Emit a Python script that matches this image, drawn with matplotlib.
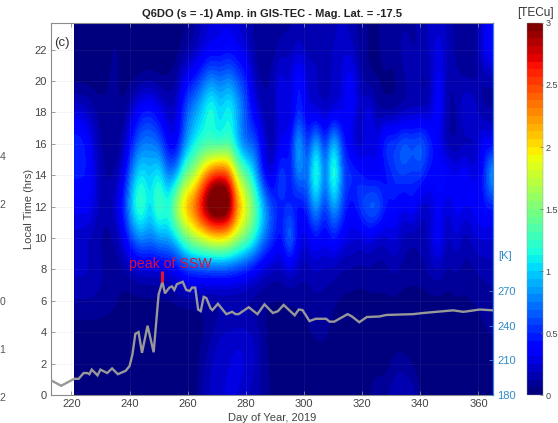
import numpy as np
import matplotlib
matplotlib.use('Agg')
import matplotlib.pyplot as plt

plt.rcParams['font.family'] = ['Liberation Sans', 'DejaVu Sans']

# hours of the rows below, bottom to top
hours = np.arange(0, 26, 2)
first_day = 220
day_step = 3

# one line per day, starting at first_day
tec_by_day = [
    [0, 0, .02, .12, .22, .2, .35, .45, .55, .25, .02, 0, 0],
    [0, 0, .02, .12, .22, .2, .35, .45, .55, .25, .02, 0, 0],
    [0, 0, .02, .12, .22, .15, .4, .45, .4, .2, .02, 0, 0],
    [0, 0, .02, .12, .15, .12, .2, .2, .15, .1, .02, 0, 0],
    [0, 0, .02, .1, .12, .1, .12, .12, .08, .08, .05, .02, 0],
    [0, 0, .02, .08, .1, .1, .25, .1, .05, .1, .08, .1, .02],
    [0, 0, 0, .03, .1, .3, .55, .3, .15, .05, .02, .03, 0],
    [0, 0, 0, .03, .15, .65, 1.15, .85, .5, .25, .03, 0, 0],
    [0, 0, 0, .03, .2, .85, 1.45, 1.15, .75, .45, .05, 0, 0],
    [0, 0, 0, .03, .2, .75, .95, .95, .75, .5, .08, 0, 0],
    [0, 0, 0, .03, .2, .9, 1.5, 1.2, .7, .35, .05, 0, 0],
    [0, 0, 0, .03, .25, .9, 1.15, .7, .35, .2, .06, 0, 0],
    [0, 0, 0, .05, .3, 1.05, 1.85, .8, .25, .2, .1, .02, 0],
    [0, 0, 0, .05, .45, 1.45, 2.3, 1.45, .75, .65, .35, .08, .05],
    [.02, .02, .02, .05, .5, 1.7, 2.55, 1.6, 1.05, .85, .45, .12, .1],
    [.15, .1, .05, .05, .5, 1.85, 3.05, 2.1, 1.15, 1.05, .65, .22, .2],
    [.2, .2, .1, .06, .5, 2.0, 3.5, 2.6, 1.05, 1.35, .85, .3, .25],
    [.25, .25, .2, .06, .5, 2.05, 3.6, 2.75, 1.0, 1.0, .7, .3, .3],
    [.25, .25, .2, .06, .5, 1.95, 3.45, 2.6, 1.2, 1.25, .85, .35, .3],
    [.25, .3, .22, .06, .45, 1.7, 2.4, 1.7, .85, .95, .65, .3, .25],
    [.2, .25, .22, .05, .4, 1.5, 2.0, 1.4, .55, .65, .5, .25, .15],
    [.15, .2, .2, .05, .3, 1.2, 1.5, .95, .7, .3, .15, .1, .1],
    [.1, .1, .08, .05, .2, .8, 1.0, .35, .25, .15, .1, .05, .05],
    [.05, .03, .02, .05, .15, .6, .6, .15, .1, .1, .15, .08, .08],
    [.03, .02, .02, .05, .15, .35, .4, .8, .3, .4, .35, .15, .1],
    [.03, .02, .03, .05, .25, 1.0, .5, .3, .35, .1, .2, .15, .1],
    [0, 0, .03, .07, .15, .3, .3, .95, 1.15, .55, .6, .2, .15],
    [0, 0, .05, .08, .15, .25, .5, .6, .35, .25, .2, .15, .1],
    [0, 0, .1, .1, .2, .45, 1.0, 1.6, 1.15, .2, .2, .2, .15],
    [0, 0, .1, .1, .15, .3, .4, .55, .35, .15, .15, .15, .1],
    [0, 0, .03, .07, .15, .5, 1.0, 1.6, 1.2, .2, .2, .2, .15],
    [0, 0, 0, .05, .1, .3, .6, .6, .5, .25, .25, .25, .2],
    [.1, 0, 0, .05, .1, .3, .3, .6, .25, .45, .45, .2, .15],
    [.05, 0, 0, .03, .1, .2, .6, .5, .1, .15, .15, .1, .1],
    [.05, 0, 0, .05, .1, .3, .8, .3, .35, .4, .05, .05, .05],
    [.15, .02, 0, .05, .1, .15, .85, .3, .25, .1, .05, .05, .05],
    [.1, .02, 0, .05, .1, .2, .45, .35, .7, .05, .05, .1, .1],
    [.2, .1, 0, .05, .15, .3, .45, .55, .6, .05, .05, .05, .1],
    [.2, .1, 0, .03, .1, .15, .25, .6, .8, .1, .1, .2, .1],
    [.2, .05, 0, .03, .1, .1, .5, .5, .7, .1, .2, .1, .1],
    [.05, 0, 0, .03, .1, .15, .15, .6, .8, .15, .1, .15, .15],
    [.02, 0, 0, .03, .15, .2, .2, .35, .55, .15, .1, .2, .2],
    [.02, 0, 0, .03, .2, .5, .35, .5, .3, .5, .45, .3, .25],
    [.02, 0, 0, .03, .1, .1, .2, .45, .1, .1, .1, .2, .15],
    [.02, 0, 0, .05, .15, .3, .4, .3, .1, .1, .15, .1, .1],
    [.02, 0, 0, .05, .1, .1, .3, .5, .1, .35, .1, .1, .1],
    [.02, 0, .02, .07, .1, .25, .35, .25, .1, .3, .1, .05, .05],
    [.02, 0, .05, .08, .15, .25, .45, .35, .4, .1, .1, .3, .25],
    [.02, 0, .08, .1, .15, .25, .4, 1.1, .3, .1, .1, .5, .35],
]

# stratospheric temperature curve
temp_days = [212.8, 216.5, 221, 222.5, 224.2, 225.5, 226.2, 227, 229, 230, 232.3, 234, 236,
             238.7, 240, 241, 242, 243.1, 244.3, 246.2, 248.3, 250, 251.3, 252.2, 253.7,
             254.6, 255.4, 256.3, 258.3, 259.5, 260.7, 261.5, 262.6, 263.6, 264.5, 265.5,
             266.4, 267.9, 268.5, 270.4, 273.3, 275.3, 276.5, 277.5, 281, 284, 286.4, 289.3,
             291, 293, 296.8, 298.2, 299.5, 301.9, 304, 307.6, 308.8, 310.4, 315, 316.5,
             319, 321.6, 326, 328.3, 337.5, 341, 351.3, 354.8, 360.5, 365]
temp_k = [193, 188, 194, 194, 199, 199, 198, 202, 197, 202, 199, 203, 198,
          201, 205, 215, 233, 234.5, 216.5, 240, 217, 267, 278, 268, 273,
          274, 271, 276, 278, 271, 270, 273, 273, 254, 252.6, 265,
          264, 255, 253.5, 259, 250, 252, 250, 250, 256, 250, 258.5, 251,
          252.5, 258, 249, 254, 253.5, 244, 246, 246, 243.5, 243.5, 250, 248,
          243, 247.5, 248, 249.3, 250, 251, 253.3, 252, 254, 253.3]
ssw_day = 251.3
ssw_k = [278, 287]

x_ticks = [220, 240, 260, 280, 300, 320, 340, 360]
y_ticks = list(range(0, 24, 2))
k_ticks = [180, 210, 240, 270]
cbar_ticks = [0, 0.5, 1, 1.5, 2, 2.5, 3]
cbar_labels = ['0', '0.5', '1', '1.5', '2', '2.5', '3']

W, H = 558, 423
fig = plt.figure(figsize=(W / 100, H / 100), dpi=100)
ax = fig.add_axes([51 / W, 1 - 395 / H, 442 / W, 372 / H])

tec = np.array(tec_by_day).T
half = day_step / 2
last_day = first_day + day_step * (tec.shape[1] - 1)
jet = plt.get_cmap('jet', 48)
im = ax.imshow(tec, origin='lower', aspect='auto', cmap=jet, vmin=0, vmax=3,
               interpolation='bicubic',
               extent=[first_day - half, last_day + half, hours[0] - 1, hours[-1] + 1])
# blank strip left of the first day with data
ax.axvspan(213, 221, color='white', zorder=1, lw=0)

ax.set_xlim(213, 365)
ax.set_ylim(0, 23.7)
ax.set_xticks(x_ticks)
ax.set_yticks(y_ticks)
ax.grid(True, color='#999999', alpha=0.1, lw=0.7)
ax.set_axisbelow(False)
ax.tick_params(direction='in', length=3, width=0.6, labelsize=8, colors='#8a8a8a',
               labelcolor='#444444', pad=3, top=True)
ax.set_xlabel('Day of Year, 2019', fontsize=8, color='#444444', labelpad=3)
ax.set_ylabel('Local Time (hrs)', fontsize=8, color='#444444', labelpad=0)
for s in ['left', 'bottom', 'top']:
    ax.spines[s].set_color('#8a8a8a')
    ax.spines[s].set_linewidth(0.8)
ax.spines['right'].set_visible(False)
ax.set_title('Q6DO (s = -1) Amp. in GIS-TEC - Mag. Lat. = -17.5', fontsize=8, fontweight='bold',
             color='#222222', pad=4)
ax.text(214, 22.4, '(c)', fontsize=9.5, color='#333333', va='center', ha='left', zorder=5)

ax2 = ax.twinx()
ax2.set_ylim(180, 180 + 372 / 1.155)
ax2.set_yticks(k_ticks)
ax2.tick_params(direction='in', length=3, width=0.6, labelsize=8, colors='#3f8fd8',
                labelcolor='#2f8cc8', pad=3)
for s in ['left', 'bottom', 'top']:
    ax2.spines[s].set_visible(False)
ax2.spines['right'].set_color('#3f7fe0')
ax2.spines['right'].set_linewidth(0.9)
ax2.plot(temp_days, temp_k, color='#989898', lw=1.7, solid_joinstyle='miter')
ax2.plot([ssw_day, ssw_day], ssw_k, color='#e8102c', lw=2.2, solid_capstyle='butt')
ax2.text(ssw_day - 11.6, 287, 'peak of SSW', fontsize=10.2, color='#d8103c', va='bottom', ha='left')
ax2.text(1.012, 0.374, '[K]', transform=ax2.transAxes, fontsize=8, color='#2f8cc8', va='center')

cax = fig.add_axes([527 / W, 1 - 395 / H, 16 / W, 372 / H])
cb = fig.colorbar(im, cax=cax, ticks=cbar_ticks)
cb.ax.set_yticklabels(cbar_labels)
cb.ax.tick_params(direction='in', length=2, width=0.5, labelsize=6.5, colors='#666666',
                  labelcolor='#444444', pad=2)
cb.outline.set_linewidth(0.3)
cb.outline.set_edgecolor('#999999')
fig.text(517 / W, 1 - 13 / H, '[TECu]', fontsize=8.5, color='#333333', va='center', ha='left')

# labels of the neighbouring panel at the left edge
for y_px, s in zip([157, 205, 302, 350, 398], ['4', '2', '0', '1', '2']):
    fig.text(5.5 / W, 1 - y_px / H, s, fontsize=7.5, color='#555555', va='center', ha='right')

fig.savefig('out.png', dpi=100)
